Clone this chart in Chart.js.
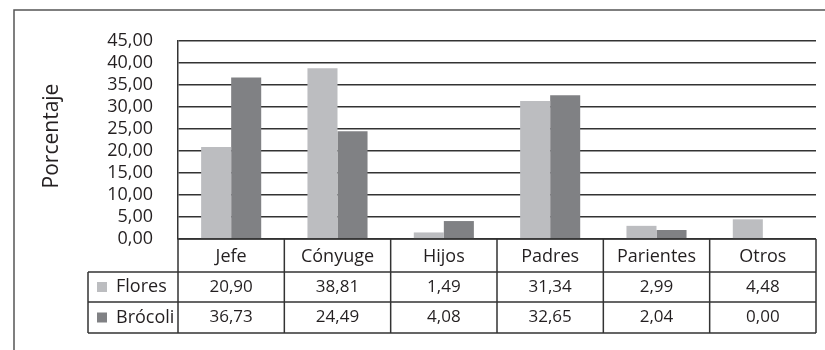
<!DOCTYPE html>
<html>
<head>
<meta charset="utf-8">
<script src="https://cdn.jsdelivr.net/npm/chart.js@4/dist/chart.umd.min.js"></script>
<style>
  html, body { margin: 0; padding: 0; background: #fff; }
  #wrap { width: 825px; height: 350px; }
</style>
</head>
<body>
<div id="wrap"><canvas id="chart" width="825" height="350"></canvas></div>
<script>
// categorias y porcentajes por hogar
const categorias = ['Jefe', 'Cónyuge', 'Hijos', 'Padres', 'Parientes', 'Otros'];
const series = ['Flores', 'Brócoli'];
const flores = [20.90, 38.81, 1.49, 31.34, 2.99, 4.48];
const brocoli = [36.73, 24.49, 4.08, 32.65, 2.04, 0.00];
const colores = ['#bcbdc0', '#808184'];

const FONT = "'Open Sans', 'Noto Sans', sans-serif";
const TXT = '#231f20';
const LINEA = '#333333';

function fmt(v) {
    return v.toFixed(2).replace('.', ',');
}

// tabla de datos, leyenda y marco dibujados bajo el grafico
const tablaPlugin = {
    id: 'tabla',
    afterDraw(chart) {
        const ctx = chart.ctx;
        const x = chart.scales.x;
        const area = chart.chartArea;
        const colW = (area.right - area.left) / categorias.length;
        const fila0 = area.bottom;        // fila de categorias
        const fila1 = fila0 + 33;         // Flores
        const fila2 = fila1 + 30;         // Brócoli
        const fila3 = fila2 + 31;
        const leyIzq = 88;

        ctx.save();

        // marco exterior
        ctx.strokeStyle = '#555';
        ctx.lineWidth = 1.5;
        ctx.beginPath();
        ctx.moveTo(14, 350);
        ctx.lineTo(14, 10);
        ctx.lineTo(825, 10);
        ctx.stroke();

        // lineas de la tabla
        ctx.strokeStyle = LINEA;
        ctx.lineWidth = 1.5;
        ctx.beginPath();
        for (let i = 0; i <= categorias.length; i++) {
            const px = area.left + i * colW;
            ctx.moveTo(px, fila0);
            ctx.lineTo(px, fila3);
        }
        ctx.moveTo(leyIzq, fila1);
        ctx.lineTo(leyIzq, fila3);
        ctx.moveTo(area.right, fila0);
        ctx.lineTo(area.left, fila0);
        [fila1, fila2, fila3].forEach(y => {
            ctx.moveTo(leyIzq, y);
            ctx.lineTo(area.right, y);
        });
        ctx.stroke();

        // textos de categorias
        ctx.fillStyle = TXT;
        ctx.textAlign = 'center';
        ctx.textBaseline = 'middle';
        ctx.font = '18px ' + FONT;
        categorias.forEach((c, i) => {
            ctx.fillText(c, x.getPixelForValue(i), (fila0 + fila1) / 2 + 1);
        });

        // valores
        ctx.font = '17px ' + FONT;
        [flores, brocoli].forEach((serie, s) => {
            const yc = s === 0 ? (fila1 + fila2) / 2 : (fila2 + fila3) / 2;
            serie.forEach((v, i) => {
                ctx.fillText(fmt(v), x.getPixelForValue(i), yc);
            });
        });

        // leyenda
        ctx.textAlign = 'left';
        ctx.font = '18px ' + FONT;
        series.forEach((nombre, s) => {
            const yc = s === 0 ? (fila1 + fila2) / 2 : (fila2 + fila3) / 2;
            ctx.fillStyle = colores[s];
            ctx.fillRect(97, yc - 5, 10, 10);
            ctx.fillStyle = TXT;
            ctx.fillText(nombre, 116, yc);
        });

        // titulo del eje y
        ctx.translate(52, 136);
        ctx.rotate(-Math.PI / 2);
        ctx.textAlign = 'center';
        ctx.font = '21px ' + FONT;
        ctx.fillText('Porcentaje', 0, 0);

        ctx.restore();
    }
};

const ctx = document.getElementById('chart').getContext('2d');

let myChart = new Chart(ctx, {
    type: 'bar',
    data: {
        labels: categorias,
        datasets: [{
            label: series[0],
            data: flores,
            backgroundColor: colores[0],
            borderWidth: 0,
            barPercentage: 1,
            categoryPercentage: 0.565
        },
        {
            label: series[1],
            data: brocoli,
            backgroundColor: colores[1],
            borderWidth: 0,
            barPercentage: 1,
            categoryPercentage: 0.565
        }]
    },
    options: {
        responsive: false,
        animation: false,
        layout: {
            padding: { left: 0, top: 41, right: 9, bottom: 0 }
        },
        plugins: {
            legend: { display: false },
            tooltip: { enabled: false }
        },
        scales: {
            x: {
                grid: { display: false },
                border: { display: false },
                ticks: { display: false },
                afterFit: s => { s.height = 111; }
            },
            y: {
                min: 0,
                max: 45,
                ticks: {
                    stepSize: 5,
                    autoSkip: false,
                    padding: 25,
                    color: TXT,
                    font: { family: FONT, size: 18, lineHeight: 1 },
                    callback: v => fmt(v)
                },
                grid: {
                    color: LINEA,
                    lineWidth: 1.5,
                    drawTicks: false
                },
                border: { display: true, color: LINEA, width: 1.5 },
                afterFit: s => { s.width = 178; }
            }
        }
    },
    plugins: [tablaPlugin]
});
</script>
</body>
</html>
